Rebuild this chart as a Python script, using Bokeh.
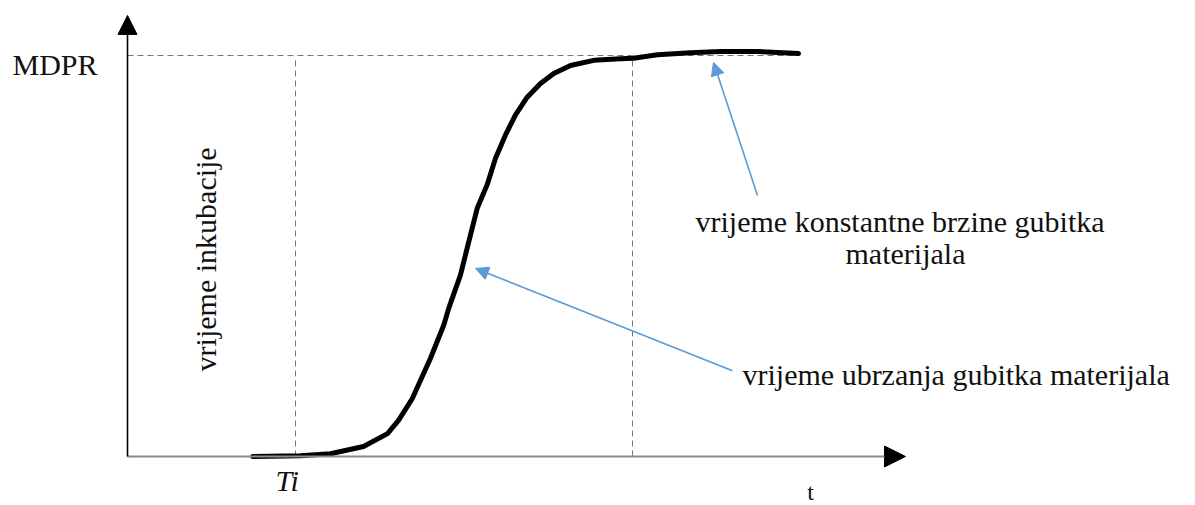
import math
from bokeh.plotting import figure
from bokeh.models import Range1d, Arrow, NormalHead, Label
from bokeh.embed import file_html
from bokeh.resources import INLINE

# ---- data (t in arbitrary time units, MDPR normalised to 1) ----
t_curve = [1.25, 1.73, 2.03, 2.36, 2.60, 2.71, 2.847, 3.03, 3.163, 3.213, 3.33, 3.413, 3.497,
           3.597, 3.68, 3.78, 3.88, 3.997, 4.13, 4.263, 4.43, 4.663, 4.93, 5.06, 5.30,
           5.63, 5.93, 6.30, 6.71]
mdpr_curve = [0.000, 0.002, 0.007, 0.025, 0.057, 0.090, 0.144, 0.245, 0.328, 0.370, 0.453, 0.536,
              0.619, 0.678, 0.744, 0.802, 0.852, 0.896, 0.930, 0.955, 0.975, 0.988, 0.992,
              0.993, 1.002, 1.007, 1.010, 1.010, 1.005]

t_ti = 1.68          # end of incubation (Ti)
t_steady = 5.05      # start of constant-rate stage
mdpr_max = 1.0
t_axis_end = 7.78
mdpr_axis_end = 1.10

label_mdpr = "MDPR"
label_ti = "Ti"
label_t = "t"
label_incub = "vrijeme  inkubacije"
label_const_1 = "vrijeme konstantne brzine gubitka"
label_const_2 = "materijala"
label_accel = "vrijeme ubrzanja gubitka materijala"

BLUE = "#5b9bd5"
SERIF = "Liberation Serif"

p = figure(width=1195, height=505, output_backend="svg", toolbar_location=None,
           x_range=Range1d(-1.27, 10.68), y_range=Range1d(-0.1222, 1.1372),
           min_border=0, min_border_left=0, min_border_right=0,
           min_border_top=0, min_border_bottom=0)
p.axis.visible = False
p.grid.visible = False
p.outline_line_color = None
p.background_fill_color = "white"

# dashed guide lines
p.line([0, t_curve[-1]], [mdpr_max, mdpr_max], line_color="#777777", line_width=1, line_dash="6 4")
p.line([t_ti, t_ti], [0, mdpr_max - 0.012], line_color="#777777", line_width=1, line_dash="6 4")
p.line([t_steady, t_steady], [0, mdpr_max - 0.012], line_color="#777777", line_width=1, line_dash="6 4")

# axes with arrow heads
p.add_layout(Arrow(x_start=0, y_start=0, x_end=t_axis_end, y_end=0,
                   line_color="#8c8c8c", line_width=2,
                   end=NormalHead(size=21, fill_color="black", line_color="black")))
p.add_layout(Arrow(x_start=0, y_start=0, x_end=0, y_end=mdpr_axis_end,
                   line_color="black", line_width=1.6,
                   end=NormalHead(size=19, fill_color="black", line_color="black")))

# main curve
p.line(t_curve, mdpr_curve, line_color="black", line_width=5, line_join="round", line_cap="round")

# blue pointer arrows
p.add_layout(Arrow(x_start=6.30, y_start=0.651, x_end=5.86, y_end=0.983,
                   line_color=BLUE, line_width=1.6,
                   end=NormalHead(size=13, fill_color=BLUE, line_color=BLUE)))
p.add_layout(Arrow(x_start=6.05, y_start=0.214, x_end=3.48, y_end=0.469,
                   line_color=BLUE, line_width=1.6,
                   end=NormalHead(size=13, fill_color=BLUE, line_color=BLUE)))

# texts
def add_label(x, y, text, size, align="left", angle=0.0, style="normal"):
    p.add_layout(Label(x=x, y=y, text=text, text_font=SERIF, text_font_size=size,
                       text_font_style=style, text_color="#111111", text_align=align,
                       text_baseline="middle", angle=angle))

add_label(-1.15, 0.9776, label_mdpr, "30px")
add_label(1.48, -0.0599, label_ti, "30px", style="italic")
add_label(6.83, -0.088, label_t, "24px", align="center")
add_label(0.78, 0.501, label_incub, "30px", align="center", angle=math.pi / 2)
add_label(5.68, 0.586, label_const_1, "30px")
add_label(7.78, 0.506, label_const_2, "30px", align="center")
add_label(6.15, 0.2045, label_accel, "30px")

open("out.html", "w").write(file_html(p, INLINE))
